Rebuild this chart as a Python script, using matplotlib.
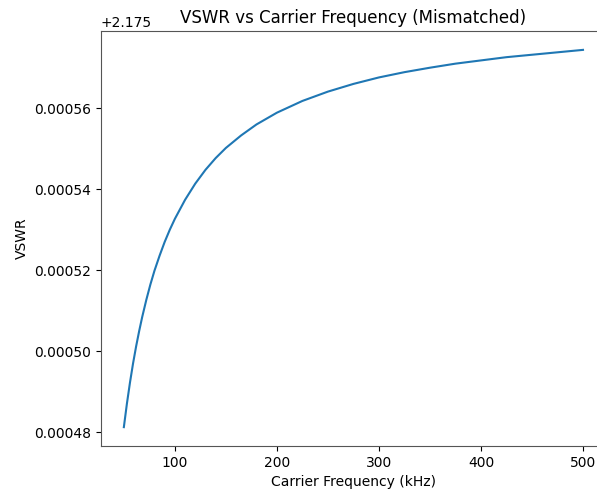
import matplotlib
matplotlib.use("Agg")
import matplotlib.pyplot as plt

# Carrier frequency (kHz)
freq_khz = [50, 53, 56, 59, 62, 65, 68, 72, 76, 80, 85, 90, 95, 100,
            110, 120, 130, 140, 150, 165, 180, 200, 225, 250, 275, 300,
            325, 350, 375, 400, 425, 450, 475, 500]
# VSWR above the 2.175 offset, in units of 1e-5
vswr_excess_e5 = [48.13, 48.71, 49.23, 49.70, 50.12, 50.50, 50.85, 51.27,
                  51.65, 51.99, 52.36, 52.70, 53.00, 53.27, 53.74, 54.14,
                  54.48, 54.77, 55.02, 55.33, 55.60, 55.89, 56.18, 56.41,
                  56.60, 56.76, 56.89, 57.00, 57.10, 57.18, 57.26, 57.32,
                  57.38, 57.44]
vswr_base = 2.175
vswr = [vswr_base + v * 1e-5 for v in vswr_excess_e5]

title = "VSWR vs Carrier Frequency (Mismatched)"
xlabel = "Carrier Frequency (kHz)"
ylabel = "VSWR"

fig = plt.figure(figsize=(5.97, 4.97), dpi=100)
ax = fig.add_axes([0.169, 0.1026, 0.846, 0.835])
ax.plot(freq_khz, vswr, color="#1f77b4", linewidth=1.5)
ax.ticklabel_format(axis="y", useOffset=vswr_base, style="plain")
ax.set_xticks([100, 200, 300, 400, 500])
ax.set_title(title, fontsize=12)
ax.set_xlabel(xlabel, fontsize=10)
ax.set_ylabel(ylabel, fontsize=10)
ax.tick_params(labelsize=10)
for s in ax.spines.values():
    s.set_color("#555555")
fig.savefig("out.png", dpi=100)
